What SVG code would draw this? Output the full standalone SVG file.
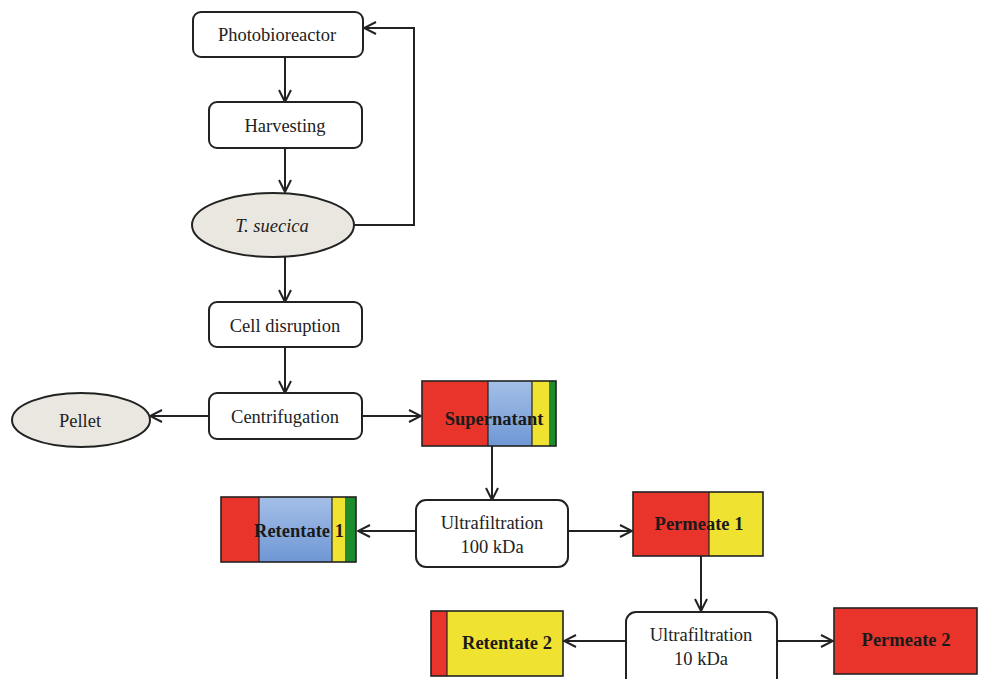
<svg xmlns="http://www.w3.org/2000/svg" width="981" height="679" viewBox="0 0 981 679">
<style>
.box{fill:#fff;stroke:#222;stroke-width:2}
.ell{fill:#e9e7e0;stroke:#222;stroke-width:2}
.t{font-family:"Liberation Serif","Times New Roman",serif;font-size:18.5px;fill:#222;text-anchor:middle}
.b{font-weight:bold;fill:#1a1a1a;font-size:18.5px}
.seg{stroke:#222;stroke-width:1.2}
.out{fill:none;stroke:#222;stroke-width:1.6}
.c{fill:none;stroke:#222;stroke-width:2}
.red{fill:#e8342b}
.yel{fill:#f0e230}
.grn{fill:#1d8c2c}
</style>
<defs>
<marker id="ah" viewBox="0 0 14 14" refX="13" refY="7" markerWidth="14" markerHeight="14" markerUnits="userSpaceOnUse" orient="auto">
<path d="M1,1 L13,7 L1,13" fill="none" stroke="#222" stroke-width="2"/>
</marker>
<linearGradient id="blue" x1="0" y1="0" x2="0" y2="1">
<stop offset="0" stop-color="#a4bfe8"/>
<stop offset="1" stop-color="#6f97d4"/>
</linearGradient>
</defs>
<rect width="981" height="679" fill="#fff"/>

<g id="connectors">
<line class="c" x1="285" y1="57" x2="285" y2="102" marker-end="url(#ah)"/>
<line class="c" x1="285" y1="148" x2="285" y2="192" marker-end="url(#ah)"/>
<polyline class="c" points="354,225 414,225 414,28 364,28" marker-end="url(#ah)"/>
<line class="c" x1="285" y1="257" x2="285" y2="302" marker-end="url(#ah)"/>
<line class="c" x1="285" y1="347" x2="285" y2="393" marker-end="url(#ah)"/>
<line class="c" x1="209" y1="416" x2="150" y2="416" marker-end="url(#ah)"/>
<line class="c" x1="362" y1="416" x2="421" y2="416" marker-end="url(#ah)"/>
<line class="c" x1="492" y1="446" x2="492" y2="500" marker-end="url(#ah)"/>
<line class="c" x1="416" y1="531" x2="358" y2="531" marker-end="url(#ah)"/>
<line class="c" x1="568" y1="531" x2="632" y2="531" marker-end="url(#ah)"/>
<line class="c" x1="701" y1="556" x2="701" y2="611" marker-end="url(#ah)"/>
<line class="c" x1="626" y1="641" x2="564" y2="641" marker-end="url(#ah)"/>
<line class="c" x1="777" y1="641" x2="833" y2="641" marker-end="url(#ah)"/>
</g>

<g id="photobioreactor">
<rect class="box" x="193" y="12" width="170" height="45" rx="8"/>
<text class="t" x="277" y="41">Photobioreactor</text>
</g>
<g id="harvesting">
<rect class="box" x="209" y="102" width="153" height="46" rx="8"/>
<text class="t" x="285" y="132">Harvesting</text>
</g>
<g id="tsuecica">
<ellipse class="ell" cx="273" cy="225" rx="81" ry="32"/>
<text class="t" x="272" y="232" font-style="italic">T. suecica</text>
</g>
<g id="celldisruption">
<rect class="box" x="209" y="302" width="153" height="45" rx="8"/>
<text class="t" x="285" y="332">Cell disruption</text>
</g>
<g id="centrifugation">
<rect class="box" x="209" y="393" width="153" height="46" rx="8"/>
<text class="t" x="285" y="423">Centrifugation</text>
</g>
<g id="pellet">
<ellipse class="ell" cx="81" cy="420" rx="69" ry="27"/>
<text class="t" x="80" y="427">Pellet</text>
</g>
<g id="supernatant">
<rect class="red" x="422" y="381" width="66" height="65"/>
<rect fill="url(#blue)" x="488" y="381" width="44" height="65"/>
<rect class="yel" x="532" y="381" width="17" height="65"/>
<rect class="grn" x="549" y="381" width="7" height="65"/>
<line class="seg" x1="488" y1="381" x2="488" y2="446"/>
<line class="seg" x1="532" y1="381" x2="532" y2="446"/>
<rect class="out" x="422" y="381" width="134" height="65"/>
<text class="t b" x="494" y="425">Supernatant</text>
</g>
<g id="uf100">
<rect class="box" x="416" y="500" width="152" height="67" rx="10"/>
<text class="t" x="492" y="529">Ultrafiltration</text>
<text class="t" x="492" y="553">100 kDa</text>
</g>
<g id="retentate1">
<rect class="red" x="221" y="497" width="38" height="65"/>
<rect fill="url(#blue)" x="259" y="497" width="73" height="65"/>
<rect class="yel" x="332" y="497" width="13" height="65"/>
<rect class="grn" x="345" y="497" width="11" height="65"/>
<line class="seg" x1="259" y1="497" x2="259" y2="562"/>
<line class="seg" x1="332" y1="497" x2="332" y2="562"/>
<rect class="out" x="221" y="497" width="135" height="65"/>
<text class="t b" x="299" y="537">Retentate 1</text>
</g>
<g id="permeate1">
<rect class="red" x="633" y="492" width="76" height="64"/>
<rect class="yel" x="709" y="492" width="54" height="64"/>
<line class="seg" x1="709" y1="492" x2="709" y2="556"/>
<rect class="out" x="633" y="492" width="130" height="64"/>
<text class="t b" x="699" y="530">Permeate 1</text>
</g>
<g id="uf10">
<rect class="box" x="626" y="612" width="151" height="80" rx="10"/>
<text class="t" x="701" y="641">Ultrafiltration</text>
<text class="t" x="701" y="665">10 kDa</text>
</g>
<g id="retentate2">
<rect class="red" x="431" y="611" width="16" height="65"/>
<rect class="yel" x="447" y="611" width="116" height="65"/>
<line class="seg" x1="447" y1="611" x2="447" y2="676"/>
<rect class="out" x="431" y="611" width="132" height="65"/>
<text class="t b" x="507" y="649">Retentate 2</text>
</g>
<g id="permeate2">
<rect class="red" x="834" y="608" width="143" height="66"/>
<rect class="out" x="834" y="608" width="143" height="66"/>
<text class="t b" x="906" y="646">Permeate 2</text>
</g>
</svg>
